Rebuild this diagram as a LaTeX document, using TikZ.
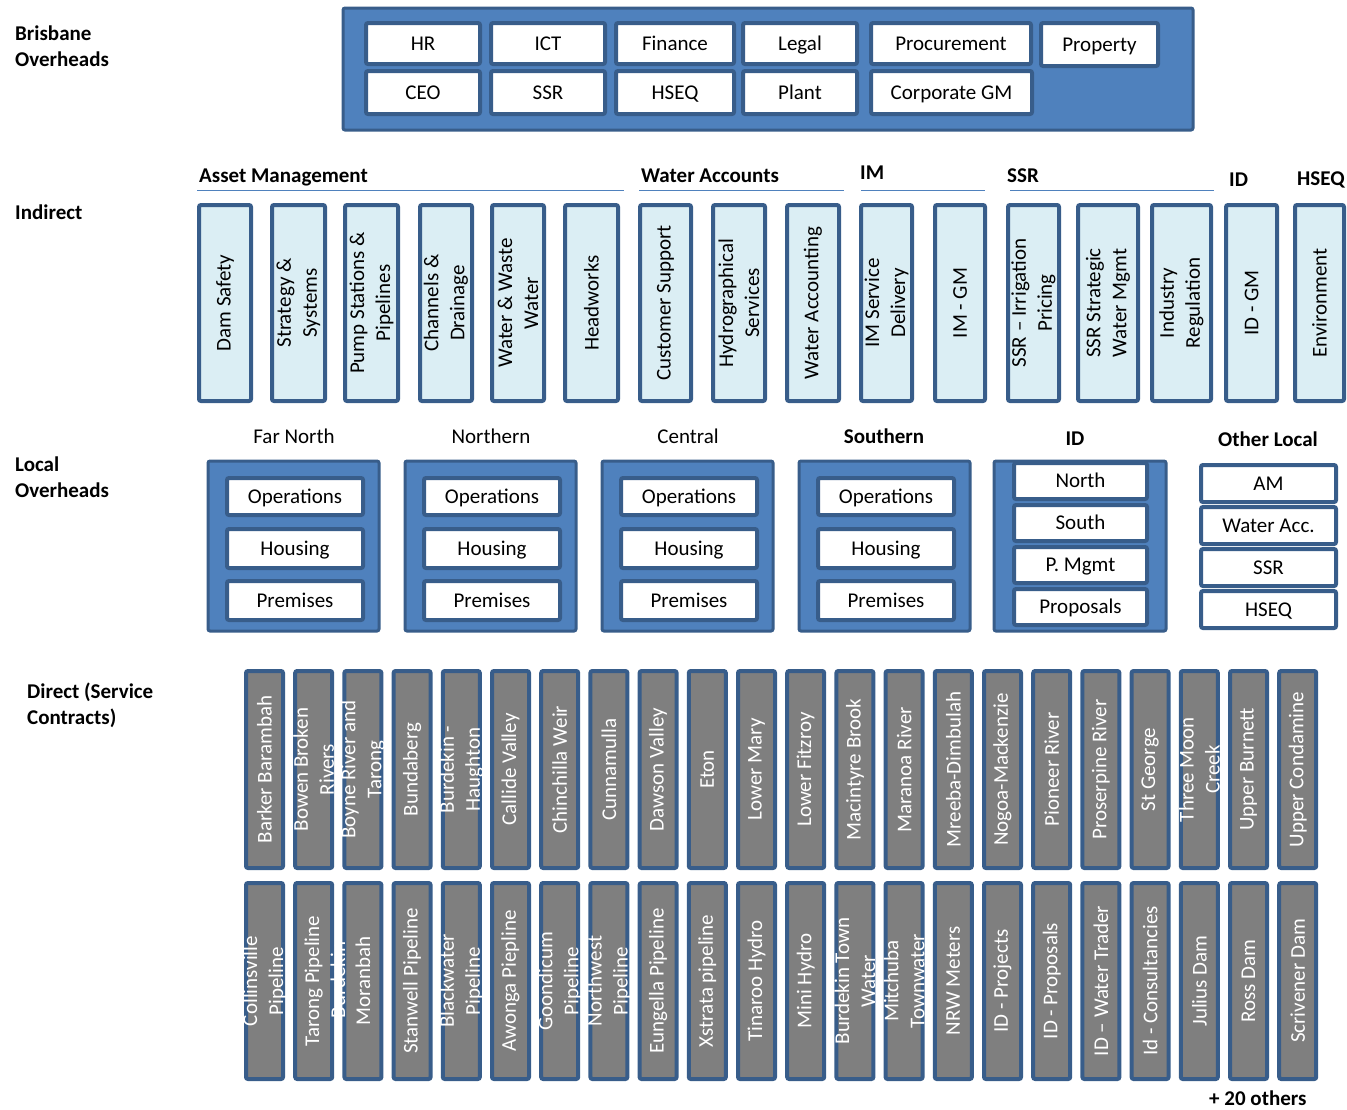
\documentclass[tikz,border=0pt]{standalone}
\usepackage{fontspec}
\setmainfont{Carlito}
\definecolor{bfill}{HTML}{4F81BD}
\definecolor{bdark}{HTML}{385D8A}
\definecolor{lcyan}{HTML}{DBEEF4}
\definecolor{gfill}{HTML}{7F7F7F}
\tikzset{
  outerbox/.style={draw=bdark, fill=bfill, line width=3pt, rounded corners=2pt, inner sep=0pt, outer sep=0pt},
  whitebox/.style={draw=bdark, fill=white, line width=4pt, rounded corners=2pt, inner sep=0pt, outer sep=0pt,
    font=\fontsize{21}{25}\selectfont, text height=13pt, text depth=0pt},
  indbox/.style={draw=bdark, fill=lcyan, line width=4pt, rounded corners=2pt, inner sep=0pt, outer sep=0pt},
  dirbox/.style={draw=bdark, fill=gfill, line width=4pt, rounded corners=2pt, inner sep=0pt, outer sep=0pt},
  itext/.style={rotate=90, align=center, inner sep=0pt, font=\fontsize{21}{26}\selectfont},
  dtext/.style={itext, text=white},
  lbl/.style={inner sep=0pt, font=\fontsize{21}{26}\selectfont\bfseries, align=left},
  ttl/.style={inner sep=0pt, font=\fontsize{21}{26}\selectfont},
  grpline/.style={draw=bfill, line width=1.5pt},
}
% horizontal box: [style]{name}{x1}{y1}{x2}{y2}{text}
\newcommand\hbx[7][]{\node[#1, minimum width={(#5-#3-4)*1pt}, minimum height={(#6-#4-4)*1pt}] (#2) at ({(#3+#5)/2},{(#4+#6)/2}) {#7};}
% vertical box: {boxstyle}{textstyle}{name}{x1}{y1}{x2}{y2}{text}
\newcommand\vbx[8]{\node[#1, minimum width={(#6-#4-4)*1pt}, minimum height={(#7-#5-4)*1pt}] (#3) at ({(#4+#6)/2},{(#5+#7)/2}) {};
  \node[#2] (#3-t) at (#3.center) {#8};}
\begin{document}
\begin{tikzpicture}[x=1pt,y=-1pt]
\useasboundingbox (0,0) rectangle (1347,1109);

% ---------- left labels ----------
\node[lbl, anchor=north west] (lab-bris) at (15,26) {Brisbane\\Overheads};
\node[lbl, anchor=west] (lab-ind) at (15,212) {Indirect};
\node[lbl, anchor=north west] (lab-loc) at (15,457) {Local\\Overheads};
\node[lbl, anchor=north west] (lab-dir) at (27,683) {Direct (Service\\Contracts)};

% ---------- Brisbane overheads ----------
\hbx[outerbox]{bris}{341}{6}{1195}{132}{}
\hbx[whitebox]{b-hr}{364}{21}{482}{66}{HR}
\hbx[whitebox]{b-ict}{489}{21}{607}{66}{ICT}
\hbx[whitebox]{b-fin}{614}{21}{736}{66}{Finance}
\hbx[whitebox]{b-leg}{741}{21}{859}{66}{Legal}
\hbx[whitebox]{b-proc}{869}{21}{1033}{66}{Procurement}
\hbx[whitebox]{b-prop}{1039}{21}{1160}{68}{Property}
\hbx[whitebox]{b-ceo}{364}{69}{482}{116}{CEO}
\hbx[whitebox]{b-ssr}{489}{69}{607}{116}{SSR}
\hbx[whitebox]{b-hseq}{614}{69}{736}{116}{HSEQ}
\hbx[whitebox]{b-plant}{741}{69}{859}{116}{Plant}
\hbx[whitebox]{b-cgm}{869}{69}{1034}{116}{Corporate GM}

% ---------- Indirect headings ----------
\node[lbl, anchor=base west] (h-am) at (199,182) {Asset Management};
\node[lbl, anchor=base west] (h-wa) at (641,182) {Water Accounts};
\node[lbl, anchor=base west] (h-im) at (860,179) {IM};
\node[lbl, anchor=base west] (h-ssr) at (1007,182) {SSR};
\node[lbl, anchor=base west] (h-id) at (1229,186) {ID};
\node[lbl, anchor=base west] (h-hseq) at (1297,185) {HSEQ};
\coordinate (g1a) at (197,190.5); \coordinate (g1b) at (624,190.5);
\coordinate (g2a) at (639,190.5); \coordinate (g2b) at (844,190.5);
\coordinate (g3a) at (861,190.5); \coordinate (g3b) at (985,190.5);
\coordinate (g4a) at (1010,190.5); \coordinate (g4b) at (1214,190.5);
\draw[grpline] (g1a) -- (g1b);
\draw[grpline] (g2a) -- (g2b);
\draw[grpline] (g3a) -- (g3b);
\draw[grpline] (g4a) -- (g4b);

% ---------- Indirect boxes ----------
\foreach \xa/\xb/\t [count=\i] in {
  197/253/Dam Safety,
  270/327/{Strategy \&\\Systems},
  343/400/{Pump Stations \&\\Pipelines},
  418/474/{Channels \&\\Drainage},
  490/546/{Water \& Waste\\Water},
  563/620/Headworks,
  638/693/Customer Support,
  711/767/{Hydrographical\\Services},
  785/841/Water Accounting,
  859/914/{IM Service\\Delivery},
  933/987/IM - GM,
  1006/1061/{SSR -- Irrigation\\Pricing},
  1076/1140/{SSR Strategic\\Water Mgmt},
  1150/1213/{Industry\\Regulation},
  1224/1279/ID - GM,
  1293/1346/Environment}{
  \vbx{indbox}{itext}{ind-\i}{\xa}{203}{\xb}{403}{\t}
}

% ---------- Local overheads ----------
\node[ttl, anchor=base] (t-fn) at (294,443) {Far North};
\node[ttl, anchor=base] (t-no) at (491,443) {Northern};
\node[ttl, anchor=base] (t-ce) at (688,443) {Central};
\node[lbl, anchor=base] (t-so) at (884,443) {Southern};
\node[lbl, anchor=base] (t-id) at (1075,445) {ID};
\node[lbl, anchor=base] (t-ol) at (1268,446) {Other Local};

\foreach \xa/\n in {206/fn, 403/no, 600/ce, 797/so}{
  \pgfmathsetmacro\xb{\xa+175}
  \pgfmathsetmacro\ia{\xa+19}
  \pgfmathsetmacro\ib{\xa+159}
  \hbx[outerbox]{lo-\n}{\xa}{459}{\xb}{633}{}
  \hbx[whitebox]{lo-\n-ops}{\ia}{476}{\ib}{517}{Operations}
  \hbx[whitebox]{lo-\n-hou}{\ia}{527}{\ib}{570}{Housing}
  \hbx[whitebox]{lo-\n-pre}{\ia}{579}{\ib}{622}{Premises}
}
\hbx[outerbox]{lo-id}{992}{459}{1168}{633}{}
\hbx[whitebox]{lo-id-n}{1012}{461}{1149}{501}{North}
\hbx[whitebox]{lo-id-s}{1012}{503}{1149}{543}{South}
\hbx[whitebox]{lo-id-p}{1012}{545}{1149}{585}{P. Mgmt}
\hbx[whitebox]{lo-id-r}{1012}{587}{1149}{627}{Proposals}

\hbx[whitebox]{lo-ol-am}{1199}{463}{1338}{504}{AM}
\hbx[whitebox]{lo-ol-wa}{1199}{505}{1338}{546}{Water Acc.}
\hbx[whitebox]{lo-ol-ssr}{1199}{547}{1338}{588}{SSR}
\hbx[whitebox]{lo-ol-hseq}{1199}{589}{1338}{630}{HSEQ}

% ---------- Direct (service contracts) ----------
\foreach \t [count=\i from 0] in {Barker Barambah,{Bowen Broken\\Rivers},{Boyne River and\\Tarong},Bundaberg,{Burdekin -\\Haughton},Callide Valley,Chinchilla Weir,Cunnamulla,Dawson Valley,Eton,Lower Mary,Lower Fitzroy,Macintyre Brook,Maranoa River,Mreeba-Dimbulah,Nogoa-Mackenzie,Pioneer River,Proserpine River,St George,{Three Moon\\Creek},Upper Burnett,Upper Condamine}{
  \pgfmathsetmacro\xa{244+49.2*\i}
  \pgfmathsetmacro\xb{\xa+41}
  \vbx{dirbox}{dtext}{d1-\i}{\xa}{669}{\xb}{870}{\t}
}
\foreach \t [count=\i from 0] in {{Collinsville\\Pipeline},Tarong Pipeline,Moranbah,Stanwell Pipeline,{Blackwater\\Pipeline},Awonga Piepline,{Goondicum\\Pipeline},{Northwest\\Pipeline},Eungella Pipeline,Xstrata pipeline,Tinaroo Hydro,Mini Hydro,{Burdekin Town\\Water},{Mitchuba\\Townwater},NRW Meters,ID - Projects,ID - Proposals,ID -- Water Trader,Id - Consultancies,Julius Dam,Ross Dam,Scrivener Dam}{
  \pgfmathsetmacro\xa{244+49.2*\i}
  \pgfmathsetmacro\xb{\xa+41}
  \vbx{dirbox}{dtext}{d2-\i}{\xa}{881}{\xb}{1081}{\t}
}
\node[dtext] (d2-hidden) at (338,980) {Burdekin};
\node[lbl, anchor=base west] (others) at (1209,1105) {+ 20 others};
\end{tikzpicture}
\end{document}
